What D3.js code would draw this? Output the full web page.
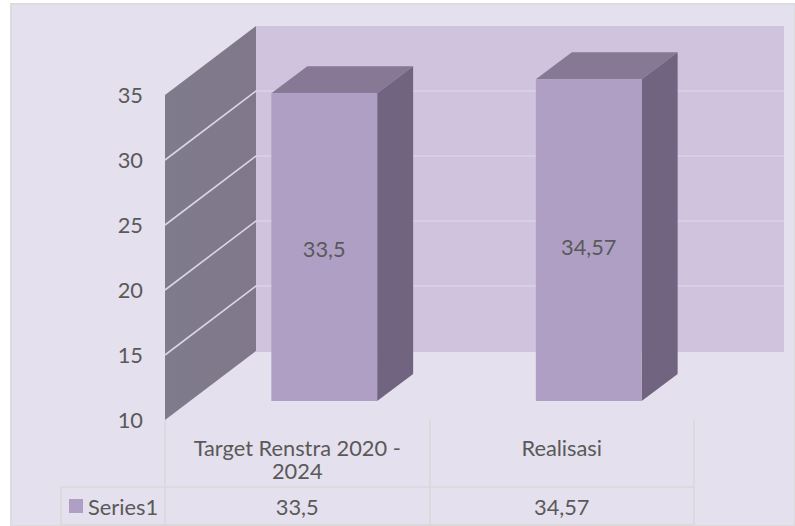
<!DOCTYPE html>
<meta charset="utf-8">
<style>
body { margin: 0; background: #fff; }
text { font: 21.8px Lato, sans-serif; fill: #595959; }
</style>
<svg width="795" height="526"></svg>
<script src="https://d3js.org/d3.v7.min.js"></script>
<script>
var categories = ["Target Renstra 2020 - 2024", "Realisasi"],
    catLines = [["Target Renstra 2020 -", "2024"], ["Realisasi"]],
    catLabels = ["33,5", "34,57"],
    seriesName = "Series1",
    values = [33.5, 34.57],
    yTicks = [10, 15, 20, 25, 30, 35];

var svg = d3.select("svg");

// depth of the 3d box
var depthX = 91, depthY = -69,
    barOffX = 27, barOffY = -19,
    barDX = 36, barDY = -27;

var x = d3.scaleBand().domain(categories).range([165, 694]).paddingInner(0.6).paddingOuter(0.3),
    y = d3.scaleLinear().domain([10, 35]).range([420, 95]),
    barH = d3.scaleLinear().domain([10, 35]).range([0, 327.5]);

var poly = d3.line();

var defs = svg.append("defs");
var g1 = defs.append("linearGradient").attr("id", "wallGrad");
g1.append("stop").attr("offset", 0).attr("stop-color", "#7f7b8c");
g1.append("stop").attr("offset", 1).attr("stop-color", "#80788a");

svg.append("rect").attr("x", 11).attr("y", 4).attr("width", 784).attr("height", 522)
    .attr("fill", "#e5e0ed").attr("stroke", "#dcdcdc").attr("stroke-width", 2);

// back wall
svg.append("rect")
    .attr("x", 165 + depthX).attr("y", y(35) + depthY)
    .attr("width", 528).attr("height", y(10) - y(35) + 1)
    .attr("fill", "#cfc3de");

// side wall
svg.append("path")
    .attr("d", poly([[165, y(35)], [165 + depthX, y(35) + depthY], [165 + depthX, y(10) + depthY], [165, y(10)]]))
    .attr("fill", "url(#wallGrad)");

// gridlines
yTicks.slice(1, 5).forEach(function(t) {
  svg.append("path")
      .attr("d", poly([[165, y(t)], [165 + depthX, y(t) + depthY], [784, y(t) + depthY]]))
      .attr("fill", "none").attr("stroke", "#dcd4e6").attr("stroke-width", 1.6);
});

// bars
categories.forEach(function(c, i) {
  var x0 = x(c) + barOffX,
      x1 = x0 + x.bandwidth(),
      base = y(10) + barOffY,
      top = base - barH(values[i]);
  svg.append("path")
      .attr("d", poly([[x0, top], [x0 + barDX, top + barDY], [x1 + barDX, top + barDY], [x1, top]]))
      .attr("fill", "#877895");
  svg.append("path")
      .attr("d", poly([[x1, top], [x1 + barDX, top + barDY], [x1 + barDX, base + barDY], [x1, base]]))
      .attr("fill", "#716480");
  svg.append("rect")
      .attr("x", x0).attr("y", top).attr("width", x.bandwidth()).attr("height", base - top)
      .attr("fill", "#af9fc5");
  svg.append("text")
      .attr("x", (x0 + x1) / 2).attr("y", i ? 255 : 257)
      .attr("text-anchor", "middle").text(catLabels[i]);
});

// y labels
svg.selectAll(".ytick").data(yTicks).enter().append("text")
    .attr("class", "ytick")
    .attr("x", 143).attr("y", function(d) { return y(d) + 8; })
    .attr("text-anchor", "end")
    .text(function(d) { return d; });

// data table
var lineCol = "#d9d9d9";
function tline(a, b, c, d) {
  svg.append("line").attr("x1", a).attr("y1", b).attr("x2", c).attr("y2", d)
      .attr("stroke", lineCol).attr("stroke-width", 1.5);
}
tline(165, 420, 165, 525);
tline(430, 420, 430, 525);
tline(694, 420, 694, 525);
tline(61, 487, 694, 487);
tline(61, 525, 694, 525);
tline(61, 487, 61, 525);

categories.forEach(function(c, i) {
  var cx = x(c) + x.bandwidth() / 2;
  catLines[i].forEach(function(s, j) {
    svg.append("text").attr("x", cx).attr("y", 456 + j * 23)
        .attr("text-anchor", "middle").text(s);
  });
  svg.append("text").attr("x", cx).attr("y", 515).attr("text-anchor", "middle").text(catLabels[i]);
});

svg.append("rect").attr("x", 69).attr("y", 499).attr("width", 14).attr("height", 14).attr("fill", "#af9fc5");
svg.append("text").attr("x", 88).attr("y", 515).text(seriesName);
</script>
